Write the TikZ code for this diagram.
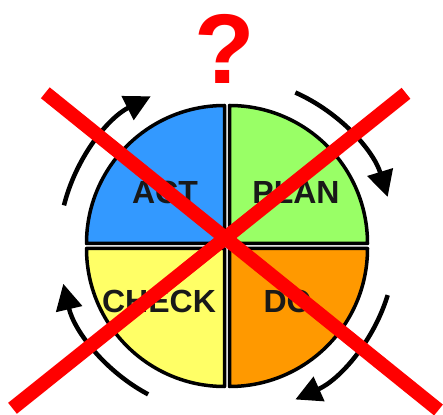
\documentclass[tikz,border=0pt]{standalone}
\usepackage{fontspec}
\setsansfont{Liberation Sans}
\usetikzlibrary{arrows.meta}
\definecolor{actcolor}{RGB}{51,153,255}
\definecolor{plancolor}{RGB}{153,255,102}
\definecolor{checkcolor}{RGB}{255,255,102}
\definecolor{docolor}{RGB}{255,153,0}
\definecolor{crosscolor}{RGB}{255,0,0}

\begin{document}
\begin{tikzpicture}[x=1pt, y=1pt,
    quarter/.style={draw=black, line width=3.5pt, line join=round},
    phase/.style={font=\sffamily\bfseries\fontsize{32}{32}\selectfont, text=black!90, inner sep=0pt},
    turn/.style={line width=4.5pt, -{Triangle[length=26pt, width=26pt]}},
    crossline/.style={draw=crosscolor, line width=14pt}]
  \useasboundingbox (0,0) rectangle (443,414);
  \coordinate (c) at (227,168);

  \draw[quarter, fill=plancolor]  (229.5,170.5) -- ++(138,0)  arc[start angle=0,   end angle=90,  radius=138] -- cycle;
  \draw[quarter, fill=actcolor]   (224.5,170.5) -- ++(0,138)  arc[start angle=90,  end angle=180, radius=138] -- cycle;
  \draw[quarter, fill=checkcolor] (224.5,165.5) -- ++(-138,0) arc[start angle=180, end angle=270, radius=138] -- cycle;
  \draw[quarter, fill=docolor]    (229.5,165.5) -- ++(0,-138) arc[start angle=270, end angle=360, radius=138] -- cycle;

  \node[phase] (act)   at (165,222) {ACT};
  \node[phase] (plan)  at (296,222) {PLAN};
  \node[phase] (check) at (159,112.5) {CHECK};
  \node[phase] (do)    at (287.5,112.5) {DO};

  \draw[turn] (c) ++(166:168) arc[start angle=166, end angle=117, radius=168];
  \draw[turn] (c) ++(66:168)  arc[start angle=66,  end angle=17,  radius=168];
  \draw[turn] (c) ++(-17:168) arc[start angle=-17, end angle=-66, radius=168];
  \draw[turn] (c) ++(242:168) arc[start angle=242, end angle=193, radius=168];

  \node[font=\sffamily\bfseries\fontsize{99}{99}\selectfont, text=crosscolor, inner sep=0pt] (query) at (225,365) {?};

  \coordinate (tl) at (45.3,321.2);
  \coordinate (br) at (438.5,4);
  \coordinate (tr) at (406,320.7);
  \coordinate (bl) at (12.5,5.7);
  \draw[crossline] (tl) -- (br);
  \draw[crossline] (tr) -- (bl);
\end{tikzpicture}
\end{document}
